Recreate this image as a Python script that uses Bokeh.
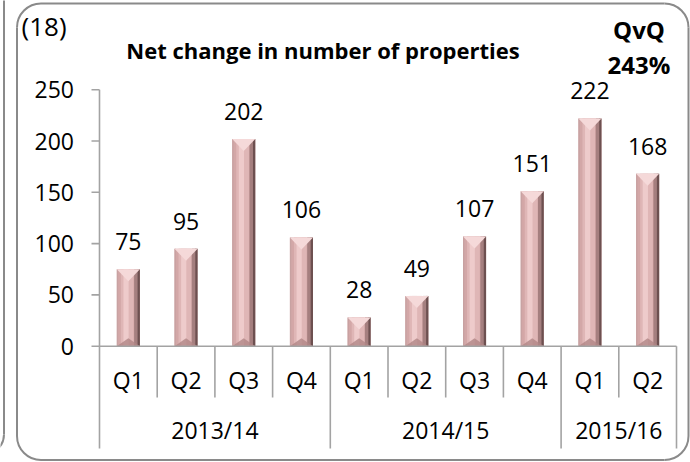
from bokeh.plotting import figure
from bokeh.models import Range1d, ColumnDataSource
from bokeh.transform import dodge
from bokeh.embed import file_html
from bokeh.resources import INLINE
from bokeh.core.properties import value

# ---------------- data ----------------
years = ["2013/14", "2014/15", "2015/16"]
year_quarters = [["Q1", "Q2", "Q3", "Q4"], ["Q1", "Q2", "Q3", "Q4"], ["Q1", "Q2"]]
net_change = [75, 95, 202, 106, 28, 49, 107, 151, 222, 168]
y_ticks = [0, 50, 100, 150, 200, 250]
title_text = "Net change in number of properties"
corner_note = "(18)"
qvq_label = "QvQ"
qvq_value = "243%"

# ---------------- layout helpers (image pixels -> data) ----------------
W, H = 690, 462
X0_PX = 99.0      # x of the first category's left edge
CAT_W = 57.7      # px per category
Y0_PX = 345.7     # y of value 0
PX_U = 1.026      # px per value unit


def dx(px):
    return (px - X0_PX) / CAT_W


def dy(py):
    return (Y0_PX - py) / PX_U


FONT = value("Open Sans")
FS = "23px"
AXIS_GREY = "#a3a3a3"
FRAME_GREY = "#8a8a8a"

quarters = [q for qs in year_quarters for q in qs]
n = len(quarters)
xc = [i + 0.5 for i in range(n)]

p = figure(width=W, height=H,
           x_range=Range1d(dx(0), dx(W)), y_range=Range1d(dy(H), dy(0)),
           x_axis_location=None, y_axis_location=None,
           output_backend="svg", toolbar_location=None, min_border=0)
p.grid.visible = False
p.outline_line_color = None
p.background_fill_color = "white"
p.border_fill_color = "white"

# ---------------- rounded panel frames ----------------
def rounded_frame(L, T, R, B, r, color, width):
    p.segment(x0=[dx(L + r), dx(L + r), dx(L), dx(R)],
              y0=[dy(T), dy(B), dy(T + r), dy(T + r)],
              x1=[dx(R - r), dx(R - r), dx(L), dx(R)],
              y1=[dy(T), dy(B), dy(B - r), dy(B - r)],
              line_color=color, line_width=width)
    p.arc(x=[dx(L + r), dx(R - r), dx(L + r), dx(R - r)],
          y=[dy(T + r), dy(T + r), dy(B - r), dy(B - r)],
          radius=r, radius_units="screen",
          start_angle=[1.5708, 0.0, 3.14159, 4.71239],
          end_angle=[3.14159, 1.5708, 4.71239, 6.28319],
          line_color=color, line_width=width)


rounded_frame(16.5, 3, 688, 459.5, 24, FRAME_GREY, 2)
# right edge of the neighbouring panel
rounded_frame(-40, -30, 3.5, 454, 20, FRAME_GREY, 2)

# ---------------- value axis ----------------
SEP_Q = dy(397)
SEP_G = dy(448)
p.segment(x0=[0], y0=[y_ticks[-1]], x1=[0], y1=[SEP_G], line_color=AXIS_GREY, line_width=1.6)
p.segment(x0=[dx(91)] * len(y_ticks), y0=y_ticks, x1=[0] * len(y_ticks), y1=y_ticks,
          line_color=AXIS_GREY, line_width=1.6)
p.text(x=[dx(73.5)] * len(y_ticks), y=y_ticks, text=[str(t) for t in y_ticks],
       text_align="right", text_baseline="middle",
       text_font=FONT, text_font_size=FS, text_color="black")

# ---------------- bars with bevel ----------------
BAR_W = 0.40
src = ColumnDataSource(dict(x=xc, top=net_change, label=[str(v) for v in net_change]))
p.vbar(x="x", top="top", bottom=0, width=BAR_W, source=src, fill_color="#d3a7a7", line_color=None)
p.vbar(x=dodge("x", -0.188), top="top", bottom=0, width=0.024, source=src, fill_color="#c8a2a2", line_color=None)
p.vbar(x=dodge("x", -0.02), top="top", bottom=0, width=0.22, source=src, fill_color="#dfb6b6", line_color=None)
p.vbar(x=dodge("x", -0.04), top="top", bottom=0, width=0.09, source=src, fill_color="#eecbcb", line_color=None)
p.vbar(x=dodge("x", 0.135), top="top", bottom=0, width=0.07, source=src, fill_color="#a57f7f", line_color=None)
p.vbar(x=dodge("x", 0.18), top="top", bottom=0, width=0.04, source=src, fill_color="#6d5050", line_color=None)

TRI_TOP = 12 / PX_U
TRI_BOT = 8 / PX_U
tri_xs = [[x - BAR_W / 2, x + BAR_W / 2, x] for x in xc]
tri_ys = [[t, t, t - TRI_TOP] for t in net_change]
p.patches(tri_xs, tri_ys, fill_color="#f5d9d9", line_color=None)
bot_ys = [[0, 0, TRI_BOT] for _ in net_change]
p.patches(tri_xs, bot_ys, fill_color="#b08686", fill_alpha=0.8, line_color=None)

p.text(x="x", y="top", text="label", source=src, y_offset=-27.5,
       text_align="center", text_baseline="middle",
       text_font=FONT, text_font_size=FS, text_color="black")

# ---------------- category axis (Excel style) ----------------
p.segment(x0=[0], y0=[0], x1=[n], y1=[0], line_color=AXIS_GREY, line_width=1.6)
bounds = [0]
for qs in year_quarters:
    bounds.append(bounds[-1] + len(qs))
inner = [i for i in range(1, n) if i not in bounds]
p.segment(x0=inner, y0=[0] * len(inner), x1=inner, y1=[SEP_Q] * len(inner),
          line_color=AXIS_GREY, line_width=1.6)
p.segment(x0=bounds[1:], y0=[0] * (len(bounds) - 1), x1=bounds[1:], y1=[SEP_G] * (len(bounds) - 1),
          line_color=AXIS_GREY, line_width=1.6)

p.text(x=xc, y=[dy(379.5)] * n, text=quarters, text_align="center", text_baseline="middle",
       text_font=FONT, text_font_size=FS, text_color="black")
year_x = [(bounds[i] + bounds[i + 1]) / 2 for i in range(len(years))]
p.text(x=year_x, y=[dy(429.5)] * len(years), text=years, text_align="center", text_baseline="middle",
       text_font=FONT, text_font_size=FS, text_color="black")

# ---------------- texts ----------------
p.text(x=[dx(322.5)], y=[dy(49)], text=[title_text], text_align="center", text_baseline="middle",
       text_font=FONT, text_font_size="22px", text_font_style="bold", text_color="black")
p.text(x=[dx(21)], y=[dy(25)], text=[corner_note], text_align="left", text_baseline="middle",
       text_font=FONT, text_font_size="26px", text_color="black")
p.text(x=[dx(638.5)], y=[dy(28.5)], text=[qvq_label], text_align="center", text_baseline="middle",
       text_font=FONT, text_font_size="24px", text_font_style="bold", text_color="black")
p.text(x=[dx(638.5)], y=[dy(63.5)], text=[qvq_value], text_align="center", text_baseline="middle",
       text_font=FONT, text_font_size="24px", text_font_style="bold", text_color="black")

open("out.html", "w").write(file_html(p, INLINE))
